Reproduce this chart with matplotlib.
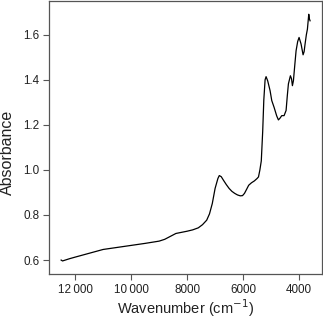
import matplotlib
matplotlib.use("Agg")
import numpy as np
from matplotlib import pyplot as plt

# NIR absorbance spectrum
wavenumber = [12500, 12450, 12400, 12300, 12200, 12000, 11500, 11000, 10500, 10000,
              9500, 9000, 8800, 8600, 8400, 8200, 8000, 7800, 7600, 7450,
              7300, 7200, 7100, 7000, 6900, 6850, 6780, 6700, 6600, 6500,
              6400, 6300, 6200, 6100, 6020, 5950, 5870, 5800, 5700, 5600,
              5500, 5450, 5400, 5350, 5300, 5260, 5214, 5179, 5120, 5036,
              4976, 4893, 4800, 4738, 4680, 4619, 4536, 4464, 4420, 4381,
              4310, 4270, 4238, 4202, 4150, 4107, 4050, 4000, 3929, 3857,
              3820, 3786, 3740, 3702, 3654, 3630, 3607]
absorbance = [0.600, 0.596, 0.598, 0.602, 0.606, 0.613, 0.630, 0.647, 0.656, 0.665,
              0.674, 0.684, 0.692, 0.705, 0.718, 0.723, 0.728, 0.734, 0.743, 0.757,
              0.777, 0.805, 0.851, 0.918, 0.962, 0.975, 0.970, 0.954, 0.935, 0.918,
              0.905, 0.896, 0.889, 0.885, 0.886, 0.896, 0.915, 0.932, 0.943, 0.951,
              0.962, 0.969, 1.000, 1.040, 1.170, 1.310, 1.400, 1.414, 1.395, 1.352,
              1.308, 1.278, 1.240, 1.222, 1.230, 1.241, 1.241, 1.264, 1.330, 1.382,
              1.418, 1.405, 1.374, 1.396, 1.470, 1.529, 1.570, 1.588, 1.559, 1.511,
              1.525, 1.559, 1.600, 1.625, 1.691, 1.670, 1.662]

x_ticks = [12000, 10000, 8000, 6000, 4000]
x_tick_labels = ["12\u2009000", "10\u2009000", "8000", "6000", "4000"]
y_ticks = [0.6, 0.8, 1.0, 1.2, 1.4, 1.6]

plt.rcParams["font.family"] = ["Liberation Sans", "DejaVu Sans"]

fig = plt.figure(figsize=(3.23, 3.19), dpi=100)
ax = fig.add_axes([0.152, 0.141, 0.845, 0.856])
ax.plot(wavenumber, absorbance, color="black", linewidth=0.9)

ax.set_xlim(12930, 3180)
ax.set_ylim(0.538, 1.75)
ax.set_xticks(x_ticks)
ax.set_xticklabels(x_tick_labels)
ax.set_yticks(y_ticks)
ax.set_yticklabels([f"{v:.1f}" for v in y_ticks])

for spine in ax.spines.values():
    spine.set_color("#555555")
    spine.set_linewidth(0.9)
ax.tick_params(direction="out", length=4, width=0.8, color="#555555",
               labelsize=8.4, labelcolor="#222222", pad=3)
ax.set_xlabel("Wavenumber (cm$^{-1}$)", fontsize=10.5, color="#222222")
ax.set_ylabel("Absorbance", fontsize=11.5, color="#222222")
ax.xaxis.set_label_coords(0.5, -0.085)
ax.yaxis.set_label_coords(-0.125, 0.445)

fig.savefig("out.png", dpi=100)
